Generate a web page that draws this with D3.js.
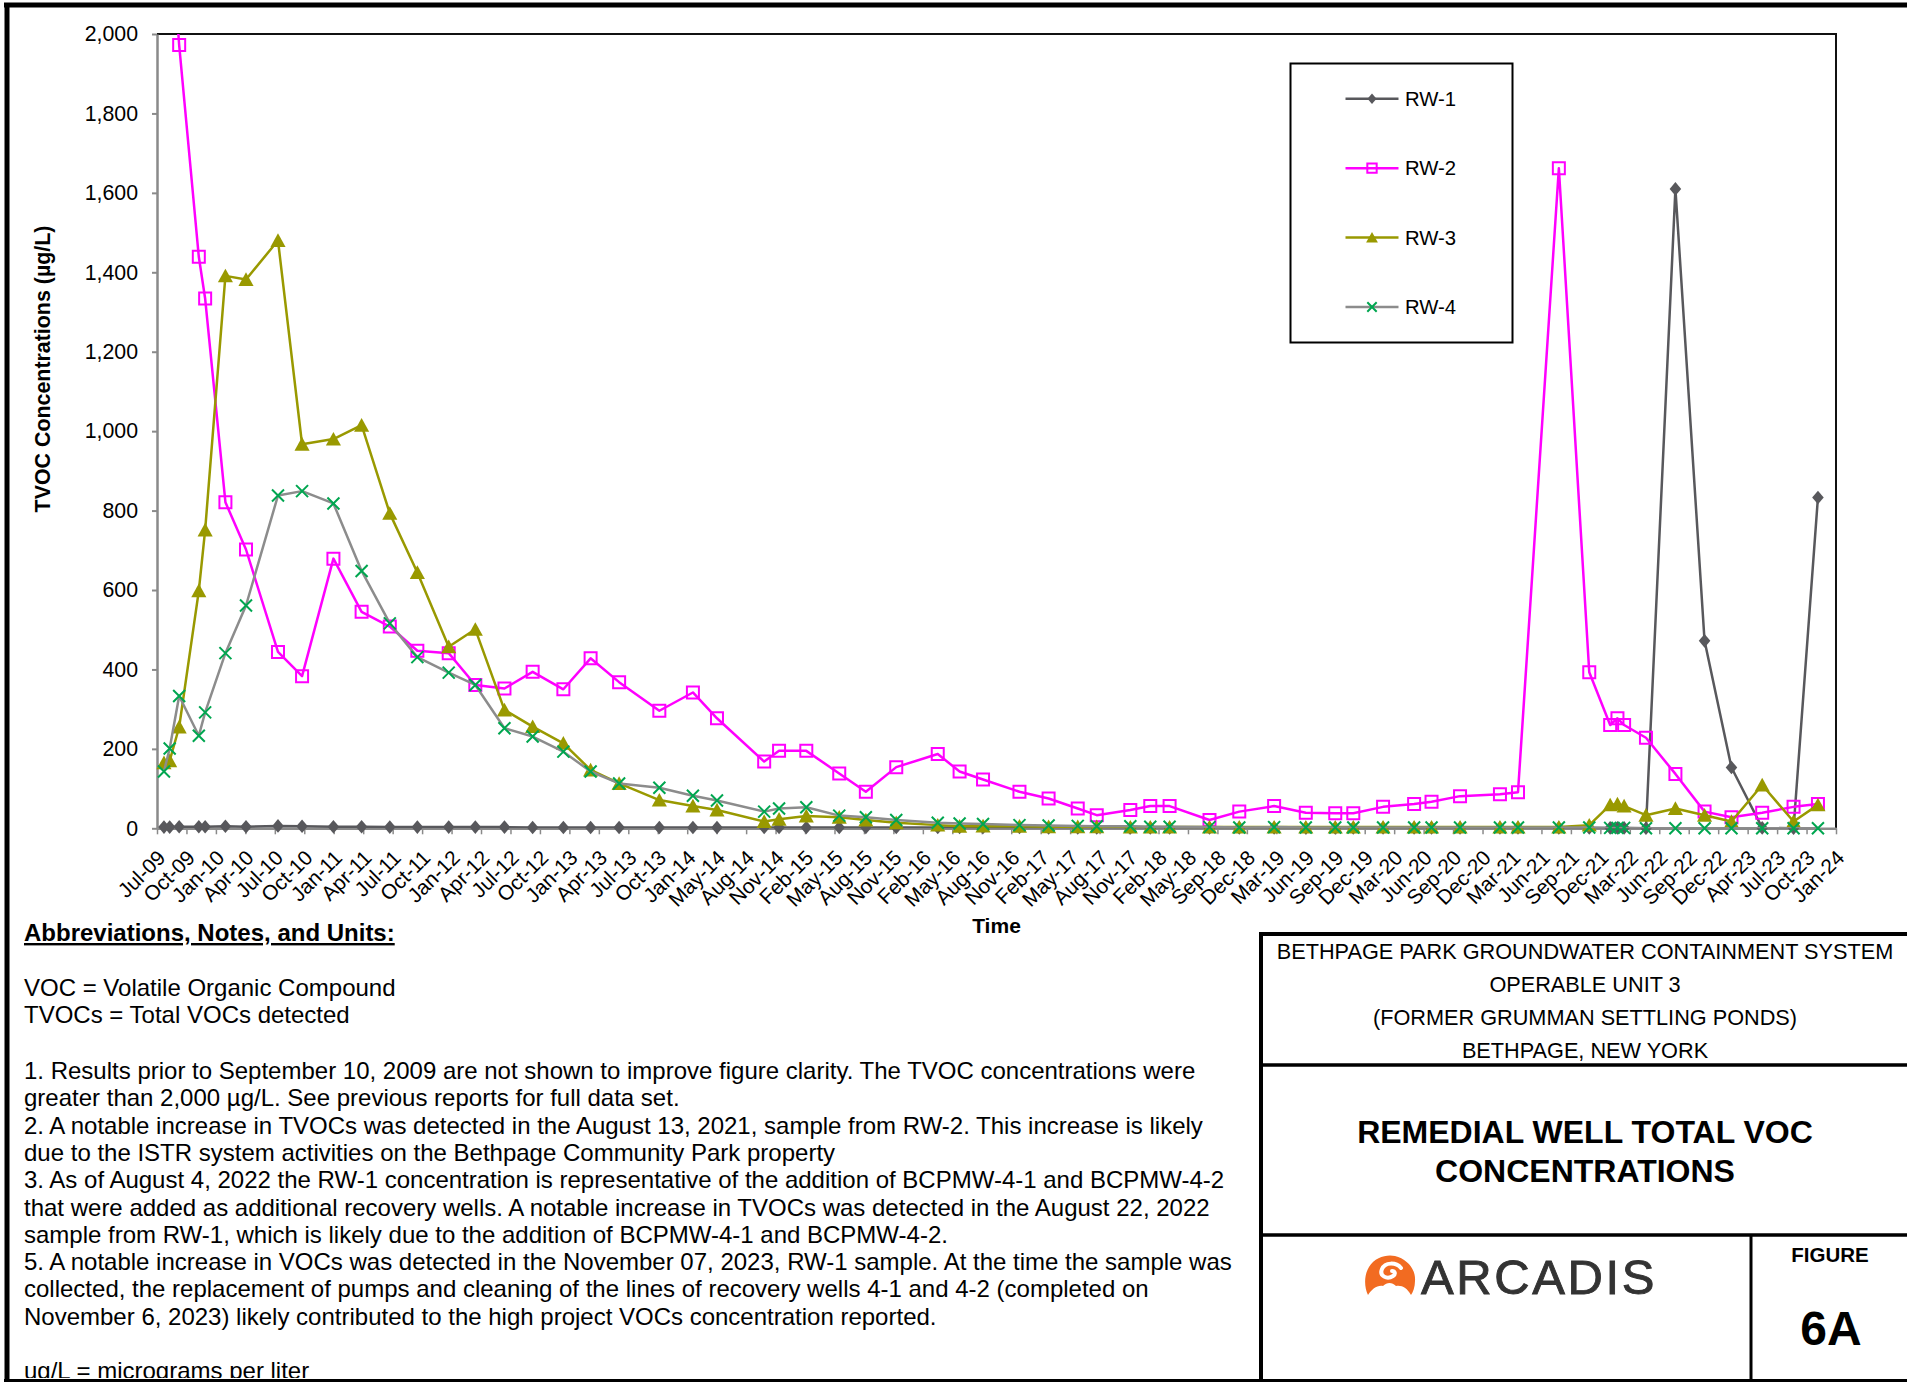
<!DOCTYPE html>
<html><head><meta charset="utf-8">
<script src="https://cdn.jsdelivr.net/npm/d3@7"></script>
<style>
body{margin:0;background:#fff;}
svg text{font-family:"Liberation Sans", Arial, sans-serif;}
</style></head><body>
<svg id="chart" width="1907" height="1382"></svg>
<script>
// ---------------- DATA ----------------
const sampleDates = ["2009-07-24","2009-08-11","2009-09-10","2009-11-11","2009-12-01","2010-02-03","2010-04-09","2010-07-19","2010-10-03","2011-01-10","2011-04-09","2011-07-07","2011-10-02","2012-01-09","2012-04-02","2012-07-03","2012-09-30","2013-01-05","2013-04-01","2013-06-30","2013-11-04","2014-02-18","2014-05-05","2014-10-01","2014-11-17","2015-02-11","2015-05-26","2015-08-18","2015-11-22","2016-04-01","2016-06-09","2016-08-22","2016-12-15","2017-03-17","2017-06-17","2017-08-16","2017-11-30","2018-02-01","2018-04-03","2018-08-07","2018-11-09","2019-02-27","2019-06-07","2019-09-08","2019-11-04","2020-02-06","2020-05-14","2020-07-08","2020-10-06","2021-02-09","2021-04-07","2021-08-14","2021-11-18","2022-01-23","2022-02-15","2022-03-08","2022-05-16","2022-08-17","2022-11-17","2023-02-10","2023-05-18","2023-08-25","2023-11-10"];
const rw1 = [3,3,4,4,4,5,4,6,5,4, 4,3,3,3,3,3,2,2,2,2, 2,2,2,2,2,2,2,2,2,2, 2,2,2,1,1,1,1,1,1,1, 1,1,1,1,1,1,1,1,1,1, 1,1,1,1,1,1,0,1610,472,153, 1,0,833];
const rw2 = [null,2300,1972,1439,1334,821,702,444,383,679, 545,508,447,441,361,352,394,350,428,368, 296,342,277,168,195,195,138,92,154,187, 143,123,92,75,50,33,46,56,56,21, 42,56,39,38,38,54,61,67,81,86, 91,1662,393,260,277,260,228,137,42,28, 39,54,61];
const rw3 = [165,170,255,598,751,1391,1382,1480,967,980, 1015,793,644,457,501,298,256,214,147,113, 71,56,46,17,23,31,28,21,14,8, 5,6,5,4,4,4,3,3,3,3, 3,3,3,3,3,3,3,3,3,3, 3,3,8,59,61,56,33,50,33,17, 109,17,59];
const rw4 = [143,201,333,233,292,441,561,838,849,818, 648,516,431,392,361,252,231,193,143,113, 102,82,70,42,50,53,32,28,21,14, 12,11,8,7,6,5,5,4,4,3, 2,3,2,2,2,2,2,2,2,2, 2,2,2,1,1,1,0,0,0,0, 0,0,0];
const seriesNames = ["RW-1","RW-2","RW-3","RW-4"];
const yTickValues = [0,200,400,600,800,1000,1200,1400,1600,1800,2000];
const xTickLabels = ["Jul-09","Oct-09","Jan-10","Apr-10","Jul-10","Oct-10","Jan-11","Apr-11","Jul-11","Oct-11","Jan-12","Apr-12","Jul-12","Oct-12","Jan-13","Apr-13","Jul-13","Oct-13","Jan-14","May-14","Aug-14","Nov-14","Feb-15","May-15","Aug-15","Nov-15","Feb-16","May-16","Aug-16","Nov-16","Feb-17","May-17","Aug-17","Nov-17","Feb-18","May-18","Sep-18","Dec-18","Mar-19","Jun-19","Sep-19","Dec-19","Mar-20","Jun-20","Sep-20","Dec-20","Mar-21","Jun-21","Sep-21","Dec-21","Mar-22","Jun-22","Sep-22","Dec-22","Apr-23","Jul-23","Oct-23","Jan-24"];
const axisStart = "2009-07-02";
const tickStepDays = 93;
const yMax = 2000;

const notesTitle = "Abbreviations, Notes, and Units:";
const notesAbbrev = ["VOC = Volatile Organic Compound","TVOCs = Total VOCs detected"];
const notesLines = [
"1. Results prior to September 10, 2009 are not shown to improve figure clarity. The TVOC concentrations were",
"greater than 2,000 µg/L. See previous reports for full data set.",
"2. A notable increase in TVOCs was detected in the August 13, 2021, sample from RW-2. This increase is likely",
"due to the ISTR system activities on the Bethpage Community Park property",
"3. As of August 4, 2022 the RW-1 concentration is representative of the addition of BCPMW-4-1 and BCPMW-4-2",
"that were added as additional recovery wells. A notable increase in TVOCs was detected in the August 22, 2022",
"sample from RW-1, which is likely due to the addition of BCPMW-4-1 and BCPMW-4-2.",
"5. A notable increase in VOCs was detected in the November 07, 2023, RW-1 sample. At the time the sample was",
"collected, the replacement of pumps and cleaning of the lines of recovery wells 4-1 and 4-2 (completed on",
"November 6, 2023) likely contributed to the high project VOCs concentration reported."];
const notesUnits = "ug/L = micrograms per liter";
const siteLines = ["BETHPAGE PARK GROUNDWATER CONTAINMENT SYSTEM","OPERABLE UNIT 3","(FORMER GRUMMAN SETTLING PONDS)","BETHPAGE, NEW YORK"];
const titleLines = ["REMEDIAL WELL TOTAL VOC","CONCENTRATIONS"];
const figureLabel = "FIGURE";
const figureNumber = "6A";
const companyName = "ARCADIS";

// ---------------- LAYOUT ----------------
const svg = d3.select("#chart");
const P = {left:157, right:1836, top:34, bottom:828.3};
const parse = d3.utcParse("%Y-%m-%d");
const x0 = parse(axisStart);
const x1 = d3.utcDay.offset(x0, tickStepDays*(xTickLabels.length-1));
const x = d3.scaleUtc().domain([x0,x1]).range([P.left,P.right]);
const y = d3.scaleLinear().domain([0,yMax]).range([P.bottom,P.top]);
const tickDates = xTickLabels.map((_,i)=>d3.utcDay.offset(x0, tickStepDays*i));

svg.append("rect").attr("width",1907).attr("height",1382).attr("fill","#fff");

// outer frame
const frame = svg.append("g").attr("stroke","#000").attr("fill","none");
frame.append("line").attr("x1",4).attr("x2",1907).attr("y1",5).attr("y2",5).attr("stroke-width",5);
frame.append("line").attr("x1",7).attr("x2",7).attr("y1",3).attr("y2",1382).attr("stroke-width",5);
frame.append("line").attr("x1",4).attr("x2",1907).attr("y1",1380.5).attr("y2",1380.5).attr("stroke-width",3);

// plot border (top/right)
svg.append("path").attr("d",`M${P.left},${P.top}H${P.right}V${P.bottom}`).attr("fill","none").attr("stroke","#111").attr("stroke-width",2);

// y axis
const yAxis = d3.axisLeft(y).tickValues(yTickValues).tickFormat(d3.format(",")).tickSize(5).tickSizeOuter(0).tickPadding(14);
const gy = svg.append("g").attr("transform",`translate(${P.left},0)`).call(yAxis);
gy.select(".domain").attr("stroke","#8a8a8a").attr("stroke-width",2.5);
gy.selectAll(".tick line").attr("stroke","#8a8a8a").attr("stroke-width",2);
gy.selectAll(".tick text").attr("font-size",21.3).attr("fill","#000").attr("font-family","Liberation Sans, Arial, sans-serif");

// x axis
const xAxis = d3.axisBottom(x).tickValues(tickDates).tickFormat((d,i)=>xTickLabels[i]).tickSize(6).tickSizeOuter(0);
const gx = svg.append("g").attr("transform",`translate(0,${P.bottom})`).call(xAxis);
gx.select(".domain").attr("stroke","#8a8a8a").attr("stroke-width",2.5);
gx.selectAll(".tick line").attr("stroke","#8a8a8a").attr("stroke-width",1.5);
gx.selectAll(".tick text").attr("font-size",20.8).attr("fill","#000").attr("font-family","Liberation Sans, Arial, sans-serif")
  .attr("x",0).attr("y",0).attr("dy","0.35em").attr("text-anchor","end")
  .attr("transform","translate(4,25.5) rotate(-45)");

// axis titles
svg.append("text").attr("transform","translate(50,369) rotate(-90)").attr("text-anchor","middle")
  .attr("font-size",21.4).attr("font-weight","bold").text("TVOC Concentrations (µg/L)");
svg.append("text").attr("x",(P.left+P.right)/2).attr("y",933).attr("text-anchor","middle")
  .attr("font-size",21).attr("font-weight","bold").text("Time");

// series
const seriesData = [rw1,rw2,rw3,rw4].map((vals,si)=>({name:seriesNames[si], pts:sampleDates.map((d,i)=>({date:parse(d), v:vals[i]}))}));
const styles = [
  {line:"#58585c", width:2.5, marker:"diamond", fill:"#58585c", stroke:"none"},
  {line:"#ff00ff", width:2.5, marker:"square", fill:"none", stroke:"#ff00ff"},
  {line:"#999900", width:2.5, marker:"triangle", fill:"#999900", stroke:"none"},
  {line:"#8c8c8c", width:2.5, marker:"x", fill:"none", stroke:"#00a650"}
];
function markerPath(type, s){
  if(type==="diamond") return `M0,${-s}L${s*0.85},0L0,${s}L${-s*0.85},0Z`;
  if(type==="square") return `M${-s},${-s}H${s}V${s}H${-s}Z`;
  if(type==="triangle") return `M0,${-s}L${s*1.05},${s*0.9}L${-s*1.05},${s*0.9}Z`;
  if(type==="x") return `M${-s},${-s}L${s},${s}M${s},${-s}L${-s},${s}`;
}
const markerSize = {diamond:6.8, square:6, triangle:7.2, x:6};

svg.append("clipPath").attr("id","plotclip").append("rect")
  .attr("x",P.left).attr("y",P.top).attr("width",P.right-P.left).attr("height",P.bottom-P.top);

const lineGen = d3.line().defined(d=>d.v!=null).x(d=>x(d.date)).y(d=>y(d.v));
seriesData.forEach((s,si)=>{
  const st = styles[si];
  const g = svg.append("g");
  g.append("path").datum(s.pts).attr("d",lineGen).attr("fill","none").attr("stroke",st.line)
    .attr("stroke-width",st.width).attr("stroke-linejoin","round").attr("clip-path","url(#plotclip)");
  g.selectAll("path.m").data(s.pts.filter(d=>d.v!=null && d.v<=yMax)).join("path").attr("class","m")
    .attr("transform",d=>`translate(${x(d.date)},${y(d.v)})`)
    .attr("d",markerPath(st.marker, markerSize[st.marker]))
    .attr("fill",st.fill).attr("stroke",st.stroke).attr("stroke-width",2);
});

// legend
const lg = svg.append("g");
lg.append("rect").attr("x",1290.5).attr("y",63.5).attr("width",222).attr("height",279).attr("fill","#fff").attr("stroke","#000").attr("stroke-width",2);
const legendY = d3.scalePoint().domain(seriesNames).range([98.7,307]);
seriesNames.forEach((n,i)=>{
  const st = styles[i];
  const yy = legendY(n);
  lg.append("line").attr("x1",1345.5).attr("x2",1398.5).attr("y1",yy).attr("y2",yy).attr("stroke",st.line).attr("stroke-width",2.5);
  lg.append("path").attr("transform",`translate(1372,${yy})`).attr("d",markerPath(st.marker, markerSize[st.marker]*0.78))
    .attr("fill",st.fill).attr("stroke",st.stroke).attr("stroke-width",2);
  lg.append("text").attr("x",1405).attr("y",yy).attr("dy","0.35em").attr("font-size",20.3).text(n);
});

// notes
const notes = svg.append("g").attr("font-size",24).attr("fill","#000");
notes.append("text").attr("x",24).attr("y",941).attr("font-weight","bold").attr("text-decoration","underline").text(notesTitle);
notesAbbrev.forEach((t,i)=>notes.append("text").attr("x",24).attr("y",996+i*26.8).text(t));
notesLines.forEach((t,i)=>notes.append("text").attr("x",24).attr("y",1079+i*27.3).text(t));
svg.append("clipPath").attr("id","noteclip").append("rect").attr("x",0).attr("y",0).attr("width",1260).attr("height",1378);
notes.append("text").attr("x",24).attr("y",1379).attr("clip-path","url(#noteclip)").text(notesUnits);

// title block
const tb = svg.append("g");
tb.append("rect").attr("x",1261).attr("y",934).attr("width",700).attr("height",500).attr("fill","#fff");
const tbl = tb.append("g").attr("stroke","#000");
tbl.append("line").attr("x1",1261).attr("x2",1261).attr("y1",932).attr("y2",1382).attr("stroke-width",4);
tbl.append("line").attr("x1",1259).attr("x2",1907).attr("y1",934).attr("y2",934).attr("stroke-width",4);
tbl.append("line").attr("x1",1261).attr("x2",1907).attr("y1",1065).attr("y2",1065).attr("stroke-width",3.5);
tbl.append("line").attr("x1",1261).attr("x2",1907).attr("y1",1235).attr("y2",1235).attr("stroke-width",3.5);
tbl.append("line").attr("x1",1751).attr("x2",1751).attr("y1",1235).attr("y2",1382).attr("stroke-width",3);
tbl.append("line").attr("x1",1261).attr("x2",1907).attr("y1",1380.5).attr("y2",1380.5).attr("stroke-width",3);
siteLines.forEach((t,i)=>tb.append("text").attr("x",1585).attr("y",959+i*33).attr("text-anchor","middle").attr("font-size",21.7).text(t));
titleLines.forEach((t,i)=>tb.append("text").attr("x",1585).attr("y",1143+i*38.5).attr("text-anchor","middle").attr("font-size",32).attr("font-weight","bold").text(t));
tb.append("text").attr("x",1830).attr("y",1262).attr("text-anchor","middle").attr("font-size",20.5).attr("font-weight","bold").text(figureLabel);
tb.append("text").attr("x",1831).attr("y",1345).attr("text-anchor","middle").attr("font-size",48).attr("font-weight","bold").text(figureNumber);

// logo
const logo = tb.append("g").attr("transform","translate(1365,1255)");
logo.append("path").attr("fill","#f26b21")
  .attr("d","M3,40 C-1,32 -1,20 4,12 C10,2 22,-1 30,1 C42,4 51,14 50,26 C50,32 48,37 46,40 C42,33 37,30 31,31 C27,27 22,27 18,31 C12,30 7,34 3,40Z");
logo.append("path").attr("fill","none").attr("stroke","#fff").attr("stroke-width",4).attr("stroke-linecap","round")
  .attr("d","M36,13 C31,7 20,7 17,14 C14,21 22,25 28,21 C31,19 30,16 27,16");
tb.append("text").attr("x",1421).attr("y",1294).attr("font-size",49).attr("fill","#333").attr("stroke","#333").attr("stroke-width",0.9).attr("letter-spacing",2.6).text(companyName);
</script>
</body></html>
